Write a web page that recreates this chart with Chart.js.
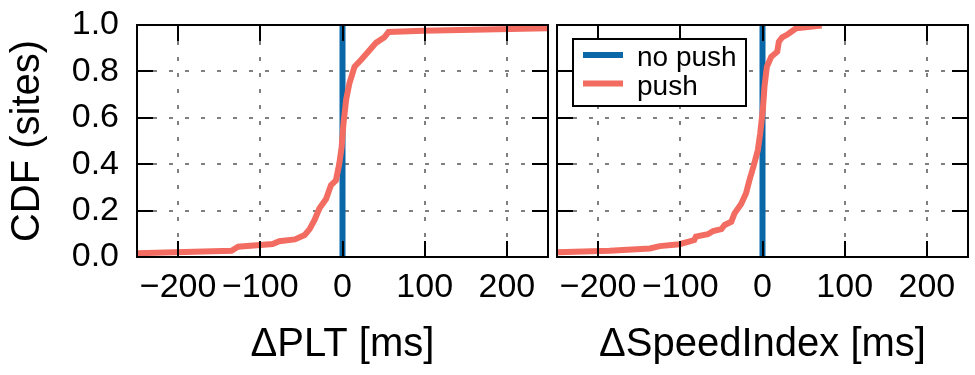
<!DOCTYPE html>
<html><head><meta charset="utf-8">
<script src="https://cdn.jsdelivr.net/npm/chart.js@4/dist/chart.umd.min.js"></script>
<style>
html,body{margin:0;padding:0;background:#fff;}
#wrap{position:relative;width:975px;height:375px;overflow:hidden;}
#c1{position:absolute;left:0;top:0;}
#c2{position:absolute;left:552px;top:0;}
</style></head><body>
<div id="wrap">
<canvas id="c1" width="552" height="375"></canvas>
<canvas id="c2" width="423" height="375"></canvas>
</div>
<script>
// ---- data ----
const xTickValues = [-200, -100, 0, 100, 200];
const yTickValues = [0, 0.2, 0.4, 0.6, 0.8, 1.0];
const seriesNames = ['no push', 'push'];
const panelTitles = ['\u0394PLT [ms]', '\u0394SpeedIndex [ms]'];
const yTitle = 'CDF (sites)';

// Delta PLT panel
const pltNoPushX = [0, 0];
const pltNoPushY = [0, 1];
const pltPushX = [-250, -135, -127, -85, -77, -58, -46, -40, -34, -28, -20, -14, -8, -4, -1, 1.2, 4.5, 8.5, 14.6, 22.7, 35, 41, 51, 56, 98, 250];
const pltPushY = [0.016, 0.027, 0.044, 0.056, 0.068, 0.076, 0.095, 0.12, 0.16, 0.21, 0.25, 0.31, 0.33, 0.40, 0.475, 0.576, 0.68, 0.75, 0.82, 0.85, 0.90, 0.924, 0.947, 0.97, 0.975, 0.986];

// Delta SpeedIndex panel
const siNoPushX = [0, 0];
const siNoPushY = [0, 1];
const siPushX = [-250, -186, -137, -125, -101, -83, -81, -66.5, -60, -50, -46, -38, -34, -26, -20, -16, -11, -5.7, -2.8, 0.4, 2.4, 5.3, 10.6, 17.9, 19.9, 24, 30.8, 41, 72];
const siPushY = [0.02, 0.027, 0.037, 0.047, 0.055, 0.073, 0.088, 0.098, 0.112, 0.12, 0.138, 0.152, 0.188, 0.228, 0.275, 0.33, 0.39, 0.46, 0.533, 0.634, 0.734, 0.82, 0.863, 0.885, 0.928, 0.947, 0.96, 0.986, 0.998];

// ---- styling ----
const BLUE = '#0a67a8';
const RED = '#f26c62';
const FONT = '"Liberation Sans", Arial, sans-serif';
const GRID = '#808080';

function pts(xs, ys) { return xs.map((x, i) => ({ x: x, y: ys[i] })); }
function fmtX(v) { return v < 0 ? '\u2212' + (-v) : String(v); }
function noPad(s) { s.paddingLeft = 0; s.paddingRight = 0; s.paddingTop = 0; s.paddingBottom = 0; }

const framePlugin = {
  id: 'frame',
  afterDraw(chart, args, opts) {
    const ctx = chart.ctx, a = chart.chartArea, sx = chart.scales.x, sy = chart.scales.y;
    const L = 16;
    ctx.save();
    ctx.strokeStyle = '#000';
    ctx.lineWidth = 2;
    ctx.beginPath();
    sx.ticks.forEach(t => {
      const px = Math.round(sx.getPixelForValue(t.value));
      ctx.moveTo(px, a.top); ctx.lineTo(px, a.top + L);
      ctx.moveTo(px, a.bottom); ctx.lineTo(px, a.bottom - L);
    });
    sy.ticks.forEach(t => {
      const py = Math.round(sy.getPixelForValue(t.value));
      ctx.moveTo(a.left, py); ctx.lineTo(a.left + L, py);
      ctx.moveTo(a.right, py); ctx.lineTo(a.right - L, py);
    });
    ctx.stroke();
    ctx.strokeRect(a.left, a.top, a.right - a.left, a.bottom - a.top);

    if (opts && opts.legend) {
      const x0 = a.left + 16, y0 = a.top + 14, w = 173, h = 67;
      ctx.fillStyle = '#fff';
      ctx.fillRect(x0, y0, w, h);
      ctx.lineWidth = 2;
      ctx.strokeStyle = '#000';
      ctx.strokeRect(x0, y0, w, h);
      chart.data.datasets.forEach((ds, i) => {
        const cy = y0 + 16 + i * 28.5;
        ctx.strokeStyle = ds.borderColor;
        ctx.lineWidth = 6;
        ctx.beginPath();
        ctx.moveTo(x0 + 10, cy); ctx.lineTo(x0 + 50, cy);
        ctx.stroke();
        ctx.fillStyle = '#000';
        ctx.font = '28px ' + FONT;
        ctx.textBaseline = 'middle';
        ctx.textAlign = 'left';
        ctx.fillText(ds.label, x0 + 64, cy + 3.5);
      });
    }
    ctx.restore();
  }
};

function makeChart(id, nx, ny, px, py, xTitle, showY, legend, padRight, yWidth) {
  return new Chart(document.getElementById(id), {
    type: 'line',
    data: {
      datasets: [
        { label: seriesNames[0], data: pts(nx, ny), borderColor: BLUE, backgroundColor: BLUE, borderWidth: 6, pointRadius: 0, tension: 0, order: 2 },
        { label: seriesNames[1], data: pts(px, py), borderColor: RED, backgroundColor: RED, borderWidth: 6, pointRadius: 0, tension: 0, order: 1 }
      ]
    },
    options: {
      responsive: false,
      animation: false,
      events: [],
      layout: { padding: { left: 0, right: padRight, top: 25, bottom: 0 } },
      plugins: { legend: { display: false }, tooltip: { enabled: false }, frame: { legend: legend } },
      scales: {
        x: {
          type: 'linear', min: -250, max: 250, z: 1,
          afterBuildTicks(s) { s.ticks = xTickValues.map(v => ({ value: v })); },
          afterFit(s) { s.height = 118; noPad(s); },
          grid: { color: GRID, lineWidth: 2, drawTicks: false },
          border: { display: false, dash: [4, 12] },
          ticks: { autoSkip: false, maxRotation: 0, minRotation: 0, padding: 10, color: '#000', font: { family: FONT, size: 34 }, callback: v => fmtX(v) },
          title: { display: true, text: xTitle, color: '#000', font: { family: FONT, size: 40 }, padding: { top: 0, bottom: 6 } }
        },
        y: {
          type: 'linear', min: 0, max: 1, z: 1,
          afterBuildTicks(s) { s.ticks = yTickValues.map(v => ({ value: v })); },
          afterFit(s) { s.width = yWidth; noPad(s); },
          grid: { color: GRID, lineWidth: 2, drawTicks: false },
          border: { display: false, dash: [4, 12] },
          ticks: { display: showY, autoSkip: false, padding: 18, color: '#000', font: { family: FONT, size: 34 }, callback: v => Number(v).toFixed(1) },
          title: { display: showY, text: yTitle, color: '#000', font: { family: FONT, size: 40 }, padding: { top: 4, bottom: 0 } }
        }
      }
    },
    plugins: [framePlugin]
  });
}

makeChart('c1', pltNoPushX, pltNoPushY, pltPushX, pltPushY, panelTitles[0], true, false, 4, 137);
makeChart('c2', siNoPushX, siNoPushY, siPushX, siPushY, panelTitles[1], false, true, 7, 5);
</script>
</body></html>
